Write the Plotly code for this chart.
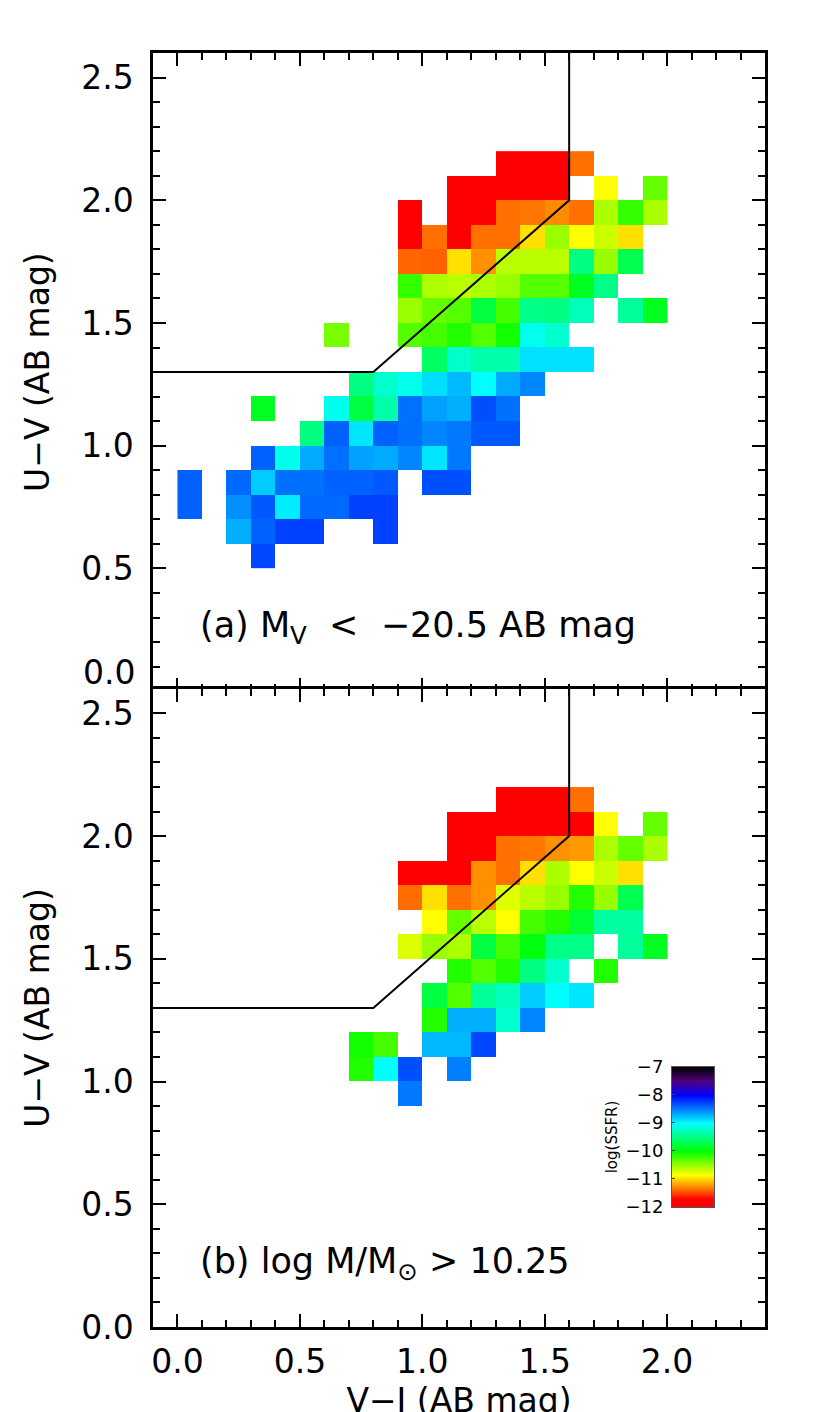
import plotly.graph_objects as go

N = None

# bin centres: V-J in 0.1 mag bins (0.0-2.0), U-V in 0.1 mag bins (top row first)
vj_centers = [0.05, 0.15, 0.25, 0.35, 0.45, 0.55, 0.65, 0.75, 0.85, 0.95,
              1.05, 1.15, 1.25, 1.35, 1.45, 1.55, 1.65, 1.75, 1.85, 1.95]
uv_centers = [2.15, 2.05, 1.95, 1.85, 1.75, 1.65, 1.55, 1.45, 1.35,
              1.25, 1.15, 1.05, 0.95, 0.85, 0.75, 0.65, 0.55]

# median log(SSFR) per bin, panel (a)  M_V < -20.5
ssfr_a = [
    [N, N, N, N, N, N, N, N, N, N, N, N, N, -11.9, -11.9, -11.9, -11.35, N, N, N],
    [N, N, N, N, N, N, N, N, N, N, N, -11.9, -11.9, -11.9, -11.9, -11.9, N, -10.85, N, -10.34],
    [N, N, N, N, N, N, N, N, N, -11.9, N, -11.9, -11.9, -11.35, -11.33, -11.26, -11.35, -10.57, -10.17, -10.57],
    [N, N, N, N, N, N, N, N, N, -11.9, -11.35, -11.9, -11.35, -11.35, -10.96, -10.51, -10.85, -10.68, -10.96, N],
    [N, N, N, N, N, N, N, N, N, -11.38, -11.4, -10.96, -11.24, -10.62, -10.62, -10.62, -9.5, -10.51, -9.69, N],
    [N, N, N, N, N, N, N, N, N, -10.17, -10.57, -10.62, -10.57, -10.51, -10.28, -10.28, -9.87, -9.47, N, N],
    [N, N, N, N, N, N, N, N, N, -10.51, -10.34, -10.28, -9.75, -10.23, -9.47, -9.5, -9.27, N, -9.4, -9.87],
    [N, N, N, N, N, N, -10.4, N, N, -10.28, -10.23, -10.11, -10.28, -10.06, -9.07, -9.2, N, N, N, N],
    [N, N, N, N, N, N, N, N, N, N, -9.62, -9.2, -9.33, -9.33, -8.88, -8.88, -8.88, N, N, N],
    [N, N, N, N, N, N, N, -9.5, -9.2, -9.07, -8.87, -8.73, -9.0, -8.67, -8.53, N, N, N, N, N],
    [N, N, N, -9.87, N, N, -9.07, -9.75, -9.33, -8.44, -8.63, -8.69, -8.31, -8.44, N, N, N, N, N, N],
    [N, N, N, N, N, -9.5, -8.38, -8.9, -8.38, -8.44, -8.53, -8.47, -8.35, -8.35, N, N, N, N, N, N],
    [N, N, N, -8.38, -9.07, -8.67, -8.44, -8.63, -8.67, -8.53, -8.9, -8.47, N, N, N, N, N, N, N, N],
    [-8.38, N, -8.41, -8.8, -8.44, -8.44, -8.39, -8.39, -8.35, N, -8.31, -8.31, N, N, N, N, N, N, N, N],
    [-8.38, N, -8.56, -8.35, -8.93, -8.41, -8.41, -8.25, -8.25, N, N, N, N, N, N, N, N, N, N, N],
    [N, N, -8.69, -8.38, -8.25, -8.25, N, N, -8.25, N, N, N, N, N, N, N, N, N, N, N],
    [N, N, N, -8.28, N, N, N, N, N, N, N, N, N, N, N, N, N, N, N, N],
]

# panel (b)  log M/Msun > 10.25
ssfr_b = [
    [N, N, N, N, N, N, N, N, N, N, N, N, N, -11.9, -11.9, -11.9, -11.35, N, N, N],
    [N, N, N, N, N, N, N, N, N, N, N, -11.9, -11.9, -11.9, -11.9, -11.9, -11.9, -10.85, N, -10.34],
    [N, N, N, N, N, N, N, N, N, N, N, -11.9, -11.9, -11.35, -11.33, -11.24, -11.21, -10.57, -10.34, -10.57],
    [N, N, N, N, N, N, N, N, N, -11.9, -11.9, -11.9, -11.24, -11.35, -10.96, -10.57, -10.85, -10.68, -10.96, N],
    [N, N, N, N, N, N, N, N, N, -11.36, -10.96, -11.35, -11.24, -10.74, -10.62, -10.51, -10.11, -10.51, -9.69, N],
    [N, N, N, N, N, N, N, N, N, N, -10.85, -10.34, -10.62, -10.85, -10.23, -10.11, -9.81, -9.37, -9.37, N],
    [N, N, N, N, N, N, N, N, N, -10.74, -10.51, -10.57, -9.75, -10.23, -9.94, -9.47, -9.47, N, -9.4, -9.87],
    [N, N, N, N, N, N, N, N, N, N, N, -10.11, -10.28, -10.11, -9.5, -9.2, N, -10.11, N, N],
    [N, N, N, N, N, N, N, N, N, N, -9.75, -10.28, -9.4, -9.27, -8.8, -9.0, -8.9, N, N, N],
    [N, N, N, N, N, N, N, N, N, N, -10.11, -8.69, -8.69, -9.2, -8.53, N, N, N, N, N],
    [N, N, N, N, N, N, N, -10.06, -10.23, N, -8.72, -8.72, -8.28, N, N, N, N, N, N, N],
    [N, N, N, N, N, N, N, -10.11, -9.0, -8.31, N, -8.5, N, N, N, N, N, N, N, N],
    [N, N, N, N, N, N, N, N, N, -8.47, N, N, N, N, N, N, N, N, N, N],
    [N] * 20,
    [N] * 20,
    [N] * 20,
    [N] * 20,
]

# UVJ quiescent selection boundary
sel_vj = [-0.5, 0.8, 1.6, 1.6]
sel_uv = [1.3, 1.3, 2.0, 3.0]

uv_ticks_top = [0.5, 1.0, 1.5, 2.0, 2.5]   # 0.0 of the top panel is lifted off the seam
uv_ticks = [0.0, 0.5, 1.0, 1.5, 2.0, 2.5]
cbar_ends = [-12, -7]
cbar_ticks = [-7, -8, -9, -10, -11, -12]

ZMIN, ZMAX = -12, -7
RAINBOW = [
    [0.00, "#ff0000"], [0.06, "#ff0000"], [0.14, "#ff8000"], [0.23, "#ffff00"],
    [0.40, "#00ff00"], [0.60, "#00ffff"], [0.80, "#0000ff"], [0.90, "#500080"],
    [1.00, "#000000"],
]
FONT = "DejaVu Sans"
BIG = 33


def heat(z, xa, ya):
    return go.Heatmap(
        x=vj_centers, y=uv_centers[::-1], z=z[::-1],
        zmin=ZMIN, zmax=ZMAX, colorscale=RAINBOW, showscale=False,
        xaxis=xa, yaxis=ya, hoverongaps=False,
    )


def boundary(xa, ya):
    return go.Scatter(x=sel_vj, y=sel_uv, mode="lines", xaxis=xa, yaxis=ya,
                      line=dict(color="black", width=2), showlegend=False,
                      hoverinfo="skip")


fig = go.Figure()
fig.add_trace(heat(ssfr_a, "x", "y"))
fig.add_trace(boundary("x", "y"))
fig.add_trace(heat(ssfr_b, "x2", "y2"))
fig.add_trace(boundary("x2", "y2"))
fig.add_trace(go.Heatmap(
    x=[0, 1], y=cbar_ends, z=[[v, v] for v in cbar_ends],
    zmin=ZMIN, zmax=ZMAX, colorscale=RAINBOW, showscale=False, zsmooth="best",
    xaxis="x3", yaxis="y3", hoverinfo="skip",
))

frame = dict(showline=True, linecolor="black", linewidth=2.5, mirror="allticks",
             ticks="inside", ticklen=13, tickwidth=2, tickcolor="black",
             showgrid=False, zeroline=False, automargin=False,
             tickfont=dict(size=BIG, color="black"))
minor = dict(dtick=0.1, ticks="inside", ticklen=7, tickwidth=2, tickcolor="black")
xax = dict(frame, range=[-0.1, 2.4], tick0=0, dtick=0.5, tickformat=".1f", minor=minor)
yax = dict(frame, range=[0, 2.6], tickformat=".1f", minor=minor,
           ticklabelstandoff=10,
           title=dict(text="U−V (AB mag)", font=dict(size=BIG), standoff=22))

# panels overlap by ~2px so their edge lines sit on one shared seam
fig.update_layout(
    width=830, height=1412,
    margin=dict(l=145, r=73, t=45, b=93),
    paper_bgcolor="white", plot_bgcolor="white",
    font=dict(family=FONT, color="black"),
    showlegend=False,
    xaxis=dict(xax, domain=[0, 1], anchor="y", showticklabels=False),
    yaxis=dict(yax, domain=[0.4991, 1], anchor="x", tickvals=uv_ticks_top),
    xaxis2=dict(xax, domain=[0, 1], anchor="y2", ticklabelstandoff=4,
                title=dict(text="V−J (AB mag)", font=dict(size=BIG), standoff=24)),
    yaxis2=dict(yax, domain=[0, 0.5009], anchor="x2", tickvals=uv_ticks),
    xaxis3=dict(domain=[0.848, 0.917], anchor="y3", range=[0, 1], showticklabels=False,
                showline=True, mirror=True, linecolor="#555", linewidth=1,
                ticks="", showgrid=False, zeroline=False),
    yaxis3=dict(domain=[0.0942, 0.2041], anchor="x3", range=cbar_ends,
                tickvals=cbar_ticks, ticks="inside", ticklen=3, tickcolor="#444",
                showline=True, mirror=True, linecolor="#555", linewidth=1,
                showgrid=False, zeroline=False, ticklabelstandoff=4,
                tickfont=dict(size=18, color="black"),
                title=dict(text="log(SSFR)", font=dict(size=15), standoff=4)),
)

# lowest tick label of the upper panel, raised off the shared edge as in the original
fig.add_annotation(x=-0.026, y=uv_ticks[0], xref="paper", yref="y", xanchor="right",
                   yanchor="bottom", yshift=-3, text=f"{uv_ticks[0]:.1f}",
                   showarrow=False, font=dict(size=BIG))

SP = "\u00a0"
fig.add_annotation(x=0.085, y=0.26, xref="x", yref="y", xanchor="left", yanchor="middle",
                   text=f"(a) M<sub>V</sub>{SP}{SP}<{SP}{SP}−20.5 AB mag",
                   showarrow=False, font=dict(size=35))
fig.add_annotation(x=0.085, y=0.26, xref="x2", yref="y2", xanchor="left", yanchor="middle",
                   text=f"(b) log M/M<sub>⊙</sub>{SP}>{SP}10.25",
                   showarrow=False, font=dict(size=35))

fig.write_html("out.html")
